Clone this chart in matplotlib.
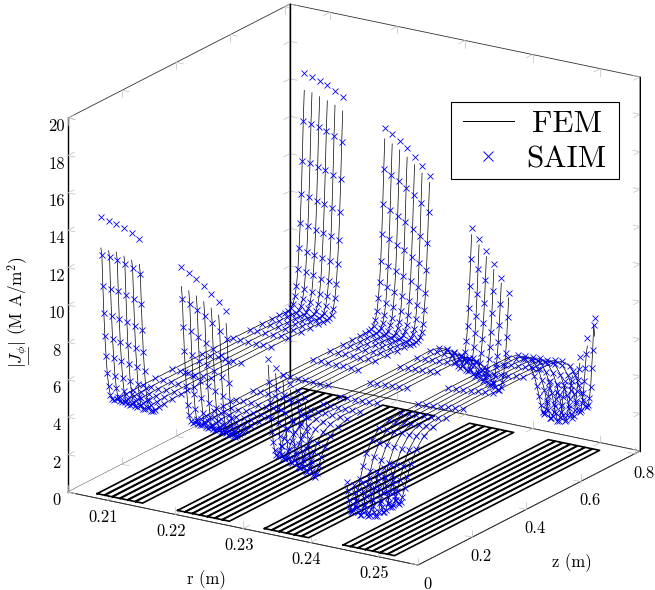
import matplotlib
matplotlib.use("Agg")
import matplotlib.pyplot as plt
from matplotlib.lines import Line2D
from matplotlib.patches import Rectangle

plt.rcParams['font.family'] = ['cmr10', 'DejaVu Sans']
plt.rcParams['mathtext.fontset'] = 'cm'
plt.rcParams['axes.formatter.use_mathtext'] = True

X_TICKS = [0.21, 0.22, 0.23, 0.24, 0.25]
X_LABELS = ['0.21', '0.22', '0.23', '0.24', '0.25']
Y_TICKS = [0, 0.2, 0.4, 0.6, 0.8]
Y_LABELS = ['0', '0.2', '0.4', '0.6', '0.8']
Z_TICKS = [0, 2, 4, 6, 8, 10, 12, 14, 16, 18, 20]
Z_LABELS = ['0', '2', '4', '6', '8', '10', '12', '14', '16', '18', '20']

Z_GRID = [0.0238, 0.0275, 0.0312, 0.0349, 0.0386, 0.0430, 0.0474, 0.0526, 0.0585, 0.0652,
          0.0733, 0.0829, 0.0958, 0.1162, 0.1439, 0.1789, 0.2251, 0.2879, 0.3987, 0.5108,
          0.5736, 0.6198, 0.6548, 0.6825, 0.7029, 0.7158, 0.7254, 0.7335, 0.7402, 0.7461,
          0.7513, 0.7557, 0.7601, 0.7638, 0.7675, 0.7712, 0.7749]

R_SLAB1 = [0.20802, 0.20916, 0.21030, 0.21143, 0.21257, 0.21371]
R_SLAB2 = [0.21993, 0.22103, 0.22214, 0.22324, 0.22434, 0.22545, 0.22655]
R_SLAB3 = [0.23278, 0.23388, 0.23497, 0.23607, 0.23717, 0.23827]
R_SLAB4 = [0.24443, 0.24553, 0.24662, 0.24771, 0.24881, 0.24990, 0.25099]

# one row per entry of Z_GRID, one column per radius of the slab
J_SLAB1 = [
    [14.83, 14.68, 14.65, 14.49, 14.30, 14.08],
    [12.78, 12.73, 12.66, 12.54, 12.39, 12.20],
    [11.06, 11.00, 10.96, 10.85, 10.72, 10.57],
    [9.61, 9.54, 9.46, 9.36, 9.26, 9.15],
    [8.33, 8.27, 8.19, 8.11, 8.03, 7.92],
    [7.26, 7.21, 7.14, 7.06, 6.98, 6.88],
    [6.31, 6.26, 6.21, 6.13, 6.06, 5.96],
    [5.59, 5.54, 5.48, 5.41, 5.34, 5.26],
    [5.06, 5.01, 4.96, 4.91, 4.86, 4.81],
    [4.78, 4.74, 4.70, 4.66, 4.62, 4.58],
    [4.66, 4.63, 4.60, 4.57, 4.54, 4.51],
    [4.63, 4.60, 4.57, 4.55, 4.53, 4.51],
    [4.64, 4.62, 4.60, 4.58, 4.56, 4.55],
    [4.66, 4.64, 4.63, 4.61, 4.60, 4.59],
    [4.68, 4.66, 4.65, 4.64, 4.63, 4.62],
    [4.69, 4.68, 4.67, 4.66, 4.65, 4.64],
    [4.70, 4.69, 4.68, 4.67, 4.66, 4.66],
    [4.71, 4.70, 4.69, 4.68, 4.68, 4.67],
    [4.71, 4.70, 4.70, 4.69, 4.69, 4.68],
    [4.71, 4.70, 4.70, 4.69, 4.69, 4.69],
    [4.70, 4.70, 4.69, 4.69, 4.69, 4.68],
    [4.69, 4.69, 4.68, 4.68, 4.67, 4.67],
    [4.68, 4.67, 4.66, 4.65, 4.65, 4.64],
    [4.67, 4.66, 4.65, 4.64, 4.63, 4.62],
    [4.66, 4.65, 4.64, 4.63, 4.62, 4.61],
    [4.66, 4.64, 4.62, 4.61, 4.60, 4.59],
    [4.73, 4.70, 4.68, 4.66, 4.64, 4.62],
    [4.91, 4.86, 4.83, 4.79, 4.76, 4.74],
    [5.25, 5.19, 5.14, 5.10, 5.06, 5.03],
    [5.78, 5.70, 5.64, 5.59, 5.56, 5.53],
    [6.61, 6.55, 6.47, 6.38, 6.34, 6.28],
    [7.72, 7.62, 7.54, 7.46, 7.38, 7.31],
    [9.03, 8.95, 8.85, 8.75, 8.67, 8.55],
    [10.53, 10.47, 10.37, 10.27, 10.15, 10.02],
    [12.30, 12.26, 12.16, 12.06, 11.90, 11.74],
    [14.42, 14.33, 14.25, 14.12, 13.93, 13.72],
    [16.92, 16.82, 16.70, 16.53, 16.33, 16.08],
]
FEM_NEAR1 = [13.17, 13.11, 13.12, 12.99, 12.86, 12.72]
FEM_FAR1 = [16.01, 15.97, 15.85, 15.71, 15.56, 15.34]

J_SLAB2 = [
    [13.04, 12.80, 12.56, 12.29, 11.96, 11.60, 11.19],
    [11.31, 11.12, 10.90, 10.66, 10.38, 10.03, 9.67],
    [9.81, 9.63, 9.41, 9.20, 8.95, 8.71, 8.43],
    [8.50, 8.32, 8.12, 7.95, 7.75, 7.50, 7.24],
    [7.35, 7.20, 7.03, 6.85, 6.65, 6.45, 6.25],
    [6.35, 6.20, 6.05, 5.88, 5.70, 5.55, 5.35],
    [5.50, 5.37, 5.23, 5.10, 4.95, 4.83, 4.70],
    [4.90, 4.80, 4.70, 4.60, 4.50, 4.40, 4.30],
    [4.55, 4.48, 4.42, 4.36, 4.30, 4.25, 4.20],
    [4.40, 4.36, 4.32, 4.28, 4.25, 4.22, 4.20],
    [4.37, 4.34, 4.31, 4.28, 4.26, 4.24, 4.23],
    [4.38, 4.36, 4.34, 4.32, 4.30, 4.28, 4.27],
    [4.40, 4.38, 4.36, 4.34, 4.33, 4.32, 4.31],
    [4.42, 4.40, 4.39, 4.37, 4.36, 4.35, 4.34],
    [4.44, 4.42, 4.41, 4.40, 4.39, 4.38, 4.37],
    [4.45, 4.44, 4.43, 4.42, 4.41, 4.40, 4.39],
    [4.46, 4.45, 4.44, 4.43, 4.42, 4.41, 4.40],
    [4.47, 4.46, 4.45, 4.44, 4.43, 4.42, 4.42],
    [4.48, 4.47, 4.46, 4.45, 4.44, 4.44, 4.43],
    [4.48, 4.47, 4.46, 4.45, 4.44, 4.44, 4.43],
    [4.47, 4.46, 4.45, 4.44, 4.43, 4.43, 4.42],
    [4.46, 4.45, 4.44, 4.43, 4.42, 4.42, 4.41],
    [4.45, 4.44, 4.43, 4.42, 4.40, 4.39, 4.38],
    [4.45, 4.43, 4.42, 4.40, 4.38, 4.36, 4.35],
    [4.45, 4.43, 4.41, 4.38, 4.36, 4.34, 4.32],
    [4.46, 4.44, 4.41, 4.38, 4.36, 4.33, 4.31],
    [4.50, 4.47, 4.44, 4.41, 4.37, 4.34, 4.30],
    [4.62, 4.58, 4.54, 4.50, 4.45, 4.40, 4.35],
    [4.90, 4.83, 4.76, 4.69, 4.62, 4.53, 4.45],
    [5.30, 5.20, 5.10, 5.00, 4.90, 4.80, 4.70],
    [5.96, 5.82, 5.68, 5.54, 5.40, 5.25, 5.10],
    [6.78, 6.62, 6.46, 6.30, 6.13, 5.97, 5.80],
    [7.92, 7.73, 7.53, 7.35, 7.16, 6.92, 6.70],
    [9.29, 9.10, 8.87, 8.68, 8.43, 8.18, 7.88],
    [10.87, 10.67, 10.43, 10.19, 9.88, 9.57, 9.30],
    [12.72, 12.50, 12.26, 11.97, 11.65, 11.31, 10.93],
    [14.90, 14.66, 14.39, 14.06, 13.70, 13.30, 12.84],
]
FEM_NEAR2 = [12.01, 11.86, 11.67, 11.45, 11.18, 10.90, 10.53]
FEM_FAR2 = [14.32, 14.13, 13.89, 13.58, 13.27, 12.90, 12.48]

J_SLAB3 = [
    [9.10, 8.70, 8.40, 8.00, 7.70, 7.40],
    [7.83, 7.55, 7.30, 7.00, 6.70, 6.40],
    [6.75, 6.50, 6.30, 6.05, 5.80, 5.60],
    [5.85, 5.65, 5.45, 5.25, 5.05, 4.85],
    [5.10, 4.93, 4.77, 4.60, 4.42, 4.25],
    [4.50, 4.37, 4.22, 4.07, 3.90, 3.75],
    [4.05, 3.93, 3.80, 3.65, 3.50, 3.35],
    [3.75, 3.65, 3.52, 3.38, 3.24, 3.10],
    [3.65, 3.55, 3.42, 3.28, 3.12, 2.95],
    [3.80, 3.70, 3.57, 3.43, 3.28, 3.10],
    [4.10, 4.00, 3.88, 3.75, 3.60, 3.42],
    [4.45, 4.37, 4.27, 4.15, 4.00, 3.82],
    [4.80, 4.73, 4.65, 4.55, 4.42, 4.27],
    [5.05, 5.02, 4.97, 4.90, 4.82, 4.72],
    [5.20, 5.17, 5.14, 5.10, 5.05, 5.00],
    [5.22, 5.21, 5.20, 5.18, 5.17, 5.15],
    [5.17, 5.17, 5.17, 5.18, 5.18, 5.20],
    [5.10, 5.12, 5.13, 5.15, 5.17, 5.19],
    [5.05, 5.08, 5.10, 5.13, 5.16, 5.19],
    [5.06, 5.08, 5.11, 5.13, 5.16, 5.19],
    [5.08, 5.10, 5.12, 5.14, 5.17, 5.20],
    [5.10, 5.10, 5.10, 5.05, 5.05, 5.05],
    [5.00, 5.00, 4.90, 4.85, 4.80, 4.70],
    [4.70, 4.65, 4.55, 4.45, 4.35, 4.20],
    [4.25, 4.15, 4.05, 3.95, 3.80, 3.60],
    [3.80, 3.70, 3.55, 3.45, 3.30, 3.10],
    [3.50, 3.40, 3.25, 3.10, 2.95, 2.80],
    [3.35, 3.25, 3.10, 2.90, 2.75, 2.60],
    [3.40, 3.30, 3.10, 2.90, 2.70, 2.55],
    [3.65, 3.50, 3.30, 3.05, 2.85, 2.65],
    [4.05, 3.85, 3.65, 3.40, 3.10, 2.85],
    [4.62, 4.40, 4.15, 3.90, 3.55, 3.20],
    [5.37, 5.10, 4.85, 4.50, 4.10, 3.70],
    [6.34, 6.00, 5.70, 5.30, 4.85, 4.34],
    [7.49, 7.10, 6.70, 6.25, 5.70, 5.14],
    [8.89, 8.45, 7.94, 7.40, 6.80, 6.19],
    [10.52, 10.00, 9.45, 8.84, 8.17, 7.44],
]
FEM_NEAR3 = [8.76, 8.40, 8.10, 7.70, 7.40, 7.10]
FEM_FAR3 = [10.16, 9.70, 9.15, 8.55, 7.90, 7.20]

J_SLAB4 = [
    [3.42, 3.30, 3.50, 3.85, 4.25, 4.55, 4.80],
    [2.90, 2.85, 3.05, 3.40, 3.75, 4.05, 4.25],
    [2.40, 2.42, 2.65, 3.00, 3.35, 3.60, 3.75],
    [2.00, 2.05, 2.25, 2.60, 2.95, 3.20, 3.35],
    [1.75, 1.75, 1.95, 2.25, 2.60, 2.90, 3.02],
    [1.65, 1.60, 1.70, 1.90, 2.25, 2.55, 2.78],
    [1.70, 1.56, 1.56, 1.65, 1.95, 2.30, 2.60],
    [1.90, 1.70, 1.60, 1.62, 1.90, 2.26, 2.50],
    [2.20, 2.00, 1.85, 1.80, 2.00, 2.30, 2.55],
    [2.65, 2.45, 2.30, 2.20, 2.30, 2.55, 2.80],
    [3.20, 3.00, 2.85, 2.75, 2.80, 2.95, 3.20],
    [3.80, 3.65, 3.50, 3.40, 3.40, 3.50, 3.70],
    [4.40, 4.30, 4.20, 4.10, 4.10, 4.15, 4.30],
    [4.95, 4.90, 4.85, 4.82, 4.82, 4.85, 4.95],
    [5.40, 5.38, 5.36, 5.35, 5.35, 5.38, 5.45],
    [5.55, 5.56, 5.58, 5.60, 5.62, 5.66, 5.70],
    [5.60, 5.62, 5.65, 5.68, 5.72, 5.76, 5.80],
    [5.60, 5.63, 5.67, 5.71, 5.75, 5.80, 5.85],
    [5.63, 5.67, 5.71, 5.75, 5.79, 5.83, 5.87],
    [5.63, 5.67, 5.71, 5.75, 5.79, 5.83, 5.87],
    [5.63, 5.67, 5.71, 5.74, 5.78, 5.82, 5.86],
    [5.62, 5.65, 5.69, 5.72, 5.75, 5.79, 5.83],
    [5.50, 5.52, 5.55, 5.56, 5.58, 5.62, 5.65],
    [5.10, 5.10, 5.10, 5.10, 5.12, 5.15, 5.20],
    [4.50, 4.45, 4.42, 4.40, 4.42, 4.48, 4.55],
    [3.90, 3.80, 3.75, 3.72, 3.75, 3.85, 3.95],
    [3.30, 3.20, 3.12, 3.10, 3.15, 3.30, 3.45],
    [2.70, 2.55, 2.45, 2.45, 2.55, 2.75, 3.00],
    [2.20, 2.00, 1.90, 1.90, 2.05, 2.35, 2.62],
    [1.75, 1.55, 1.47, 1.53, 1.80, 2.20, 2.52],
    [1.60, 1.49, 1.44, 1.55, 1.85, 2.25, 2.58],
    [1.65, 1.55, 1.58, 1.80, 2.15, 2.60, 2.95],
    [1.85, 1.75, 1.85, 2.15, 2.60, 3.10, 3.50],
    [2.10, 2.02, 2.20, 2.60, 3.10, 3.70, 4.50],
    [2.45, 2.38, 2.60, 3.05, 3.65, 4.40, 5.40],
    [2.85, 2.75, 3.00, 3.50, 4.20, 5.10, 6.75],
    [3.20, 3.10, 3.40, 4.00, 4.83, 5.90, 7.10],
]
FEM_NEAR4 = [3.20, 3.10, 3.30, 3.60, 4.00, 4.30, 4.50]
FEM_FAR4 = [3.00, 2.95, 3.20, 3.75, 4.50, 5.50, 6.10]

FILAMENT_HALF_WIDTH = 0.00052
FILAMENT_Z = [0.023, 0.78]
R_RANGE = [0.2041, 0.2559]
Z_RANGE = [0.0, 0.82]
J_RANGE = [0.0, 20.0]

slabs = [
    (R_SLAB1, J_SLAB1, FEM_NEAR1, FEM_FAR1),
    (R_SLAB2, J_SLAB2, FEM_NEAR2, FEM_FAR2),
    (R_SLAB3, J_SLAB3, FEM_NEAR3, FEM_FAR3),
    (R_SLAB4, J_SLAB4, FEM_NEAR4, FEM_FAR4),
]

W, H = 655, 590
fig = plt.figure(figsize=(W / 100, H / 100), dpi=100)
side = 590.0
cx, cy = 354.0, 284.5  # pixel position of the box centre
frac = 0.095 / 0.185
left = cx - frac * side
bottom = (H - cy) - frac * side
ax = fig.add_axes([left / W, bottom / H, side / W, side / H], projection='3d', proj_type='ortho')
ax.computed_zorder = False
ax.patch.set_alpha(0)
ax.view_init(elev=19.1, azim=-57.5)
ax.set_box_aspect((415.1, 413.3, 395.8), zoom=686.3 / side)
ax.set_xlim(*R_RANGE, view_margin=0)
ax.set_ylim(*Z_RANGE, view_margin=0)
ax.set_zlim(*J_RANGE, view_margin=0)
ax.grid(False)

for axis in (ax.xaxis, ax.yaxis, ax.zaxis):
    axis.set_pane_color((1, 1, 1, 1))
    axis.pane.set_edgecolor('#333333')
    axis.pane.set_linewidth(0.6)
    axis.line.set_color('#333333')
    axis.line.set_linewidth(0.6)
    axis._axinfo['tick']['inward_factor'] = 0
    axis._axinfo['tick']['outward_factor'] = 0

ax.set_xticks(X_TICKS, X_LABELS)
ax.set_yticks(Y_TICKS, Y_LABELS)
ax.set_zticks(Z_TICKS, Z_LABELS)
ax.tick_params(axis='x', labelsize=11.9, pad=-3.8)
ax.tick_params(axis='y', labelsize=11.9, pad=-2.3)
ax.tick_params(axis='z', labelsize=11.9, pad=-3.6)
ax.zaxis.set_ticks_position('lower')
ax.zaxis.line.set_color('black')
ax.zaxis.line.set_linewidth(1.0)

ax.yaxis.set_rotate_label(False)
ax.set_ylabel('z (m)', fontsize=12, labelpad=5.8)
ax.text2D(206 / W, 1 - 580 / H, 'r (m)', fontsize=12, ha='center', va='center',
          transform=fig.transFigure)
ax.text2D(18 / W, 1 - 312 / H, r'$|J_\phi|$ (M A/m$^2$)', fontsize=12.4, rotation=90,
          ha='center', va='center', transform=fig.transFigure)
fig.add_artist(Line2D([27.5 / W, 27.5 / W], [1 - 364 / H, 1 - 347 / H], color='black', lw=0.5))

# the two other upright edges of the box
x0, x1 = R_RANGE
y0, y1 = Z_RANGE
z0, z1 = J_RANGE
for (xe, ye) in ((x0, y1), (x1, y1)):
    ax.plot([xe, xe], [ye, ye], [z0, z1], color='black', lw=1.0, zorder=1.2)

# little grey ticks on the walls
dx = 0.02 * (x1 - x0)
dy = 0.028 * (y1 - y0)
dz = 0.019 * (z1 - z0)
tick_kw = dict(color='#bdbdbd', lw=0.5, zorder=1)
for t in Z_TICKS:
    for (xe, ye, sx, sy) in ((x0, y0, 1, 1), (x0, y1, 1, -1), (x1, y1, -1, -1)):
        ax.plot([xe, xe + sx * dx], [ye, ye], [t, t], **tick_kw)
        ax.plot([xe, xe], [ye, ye + sy * dy], [t, t], **tick_kw)
for t in X_TICKS:
    for (ye, ze, sy, sz) in ((y0, z0, 1, 1), (y1, z0, -1, 1), (y1, z1, -1, -1)):
        ax.plot([t, t], [ye, ye + sy * dy], [ze, ze], **tick_kw)
        ax.plot([t, t], [ye, ye], [ze, ze + sz * dz], **tick_kw)
for t in Y_TICKS:
    for (xe, ze, sx, sz) in ((x1, z0, -1, 1), (x0, z0, 1, 1), (x0, z1, 1, -1)):
        ax.plot([xe, xe + sx * dx], [t, t], [ze, ze], **tick_kw)
        ax.plot([xe, xe], [t, t], [ze, ze + sz * dz], **tick_kw)

# filament outlines on the floor
for radii, _, _, _ in slabs:
    for r in radii:
        a, b = r - FILAMENT_HALF_WIDTH, r + FILAMENT_HALF_WIDTH
        ax.plot([a, b, b, a, a],
                [FILAMENT_Z[0], FILAMENT_Z[0], FILAMENT_Z[1], FILAMENT_Z[1], FILAMENT_Z[0]],
                [0, 0, 0, 0, 0], color='black', lw=1.2, zorder=2)

# FEM then SAIM
for radii, table, near, far in slabs:
    for i, r in enumerate(radii):
        col = [row[i] for row in table]
        fem = [near[i]] + col[1:-1] + [far[i]]
        ax.plot([r] * len(Z_GRID), Z_GRID, fem, color='black', lw=0.5, zorder=3)
for radii, table, near, far in slabs:
    for i, r in enumerate(radii):
        col = [row[i] for row in table]
        ax.plot([r] * len(Z_GRID), Z_GRID, col, ls='none', marker='x', ms=3.7, mew=0.6,
                color='blue', zorder=4)

# legend box and entries
fig.add_artist(Rectangle((450.7 / W, 1 - 179.3 / H), 168.6 / W, 77.6 / H,
                         transform=fig.transFigure, facecolor='white', edgecolor='black',
                         lw=0.8, zorder=4))
handles = [
    Line2D([], [], color='black', lw=0.7, label='FEM'),
    Line2D([], [], ls='none', marker='x', ms=6.7, mew=0.7, color='blue', label='SAIM'),
]
leg = fig.legend(handles=handles, loc='upper left', bbox_to_anchor=(450.7 / W, 1 - 97.6 / H),
                 bbox_transform=fig.transFigure, fontsize=22.4, frameon=False,
                 handlelength=1.645, handletextpad=0.39,
                 borderpad=0.39, labelspacing=0.26, borderaxespad=0)
leg.set_zorder(5)
leg.get_texts()[0].set_x(6)

fig.savefig('out.png', dpi=100)
